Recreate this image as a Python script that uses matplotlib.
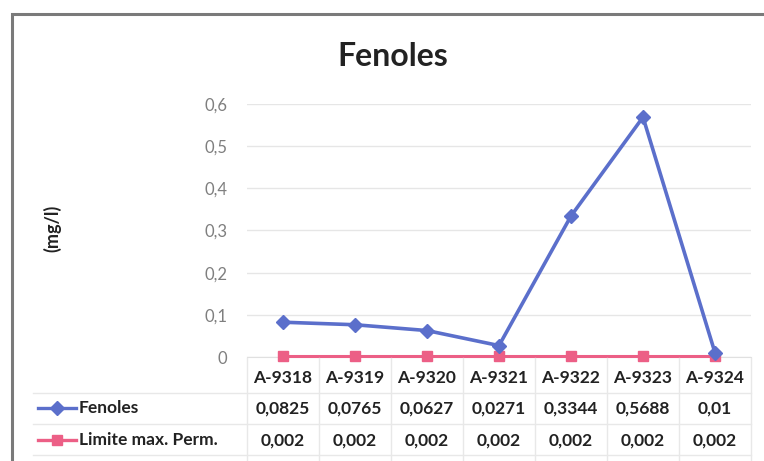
import matplotlib.pyplot as plt
import matplotlib.transforms as mtransforms
from matplotlib.lines import Line2D
from matplotlib.patches import Rectangle

# data
muestras = ['A-9318', 'A-9319', 'A-9320', 'A-9321', 'A-9322', 'A-9323', 'A-9324']
fenoles = [0.0825, 0.0765, 0.0627, 0.0271, 0.3344, 0.5688, 0.01]
limite = [0.002, 0.002, 0.002, 0.002, 0.002, 0.002, 0.002]
fenoles_txt = ['0,0825', '0,0765', '0,0627', '0,0271', '0,3344', '0,5688', '0,01']
limite_txt = ['0,002'] * 7
yticks = [0, 0.1, 0.2, 0.3, 0.4, 0.5, 0.6]
ytick_txt = ['0', '0,1', '0,2', '0,3', '0,4', '0,5', '0,6']

azul = '#5b6fcb'
rosa = '#ec5f86'
plt.rcParams['font.family'] = ['Lato', 'DejaVu Sans']

W, H = 764, 461
fig = plt.figure(figsize=(W / 100, H / 100), dpi=100)

def fy(py):
    # pixel row -> figure fraction
    return 1 - py / H

# outer chart frame
fig.patches.append(Rectangle((12 / W, fy(470)), 760 / W, (470 - 14) / H,
                             transform=fig.transFigure, fill=False,
                             edgecolor='#7a7a7a', linewidth=2.2))

ax = fig.add_axes([247 / W, fy(357), (751 - 247) / W, (357 - 104) / H])
x = list(range(len(muestras)))
ax.plot(x, fenoles, color=azul, linewidth=2.6, marker='D', markersize=7.5,
        zorder=4, clip_on=False)
ax.plot(x, limite, color=rosa, linewidth=2.2, marker='s', markersize=7.5,
        zorder=3, clip_on=False)
ax.set_xlim(-0.5, 6.5)
ax.set_ylim(0, 0.6)
ax.set_yticks(yticks)
ax.set_yticklabels(ytick_txt, color='#7f7f7f', fontsize=12)
ax.set_xticks([])
ax.tick_params(axis='y', length=0, pad=14)
ax.grid(axis='y', color='#e6e6e6', linewidth=1)
for s in ['top', 'right', 'left']:
    ax.spines[s].set_visible(False)
ax.spines['bottom'].set_color('#e0e0e0')
ax.set_axisbelow(True)

fig.text(393 / W, fy(57), 'Fenoles', ha='center', va='center',
         fontsize=23, fontweight='bold', color='#222222')
fig.text(52 / W, fy(228), '(mg/l)', ha='center', va='center', rotation=90,
         fontsize=13, fontweight='bold', color='#222222')

# data table under the axis
tr = mtransforms.blended_transform_factory(ax.transData, fig.transFigure)
tabla_gris = '#e8e8e8'
for b in [i - 0.5 for i in range(len(muestras) + 1)]:
    fig.add_artist(Line2D([b, b], [fy(358), fy(461)], transform=tr,
                          color=tabla_gris, linewidth=1))
for py in [393, 424, 455]:
    fig.add_artist(Line2D([33 / W, 751 / W], [fy(py), fy(py)],
                          transform=fig.transFigure, color=tabla_gris,
                          linewidth=1))

for i, m in enumerate(muestras):
    fig.text(i, fy(378), m, transform=tr, ha='center', va='center',
             fontsize=12.5, fontweight='bold', color='#222222')
    fig.text(i, fy(409), fenoles_txt[i], transform=tr, ha='center',
             va='center', fontsize=12.5, fontweight='bold', color='#222222')
    fig.text(i, fy(441), limite_txt[i], transform=tr, ha='center',
             va='center', fontsize=12.5, fontweight='bold', color='#222222')

# legend keys inside the table
for py, col, mk, nombre in [(408, azul, 'D', 'Fenoles'),
                            (440, rosa, 's', 'Limite max. Perm.')]:
    fig.add_artist(Line2D([38 / W, 76 / W], [fy(py), fy(py)],
                          transform=fig.transFigure, color=col, linewidth=2.4))
    fig.add_artist(Line2D([57 / W], [fy(py)], transform=fig.transFigure,
                          color=col, marker=mk, markersize=7.5))
    fig.text(79 / W, fy(py), nombre, ha='left', va='center', fontsize=12.5,
             fontweight='bold', color='#222222')

fig.savefig('out.png', dpi=100)
